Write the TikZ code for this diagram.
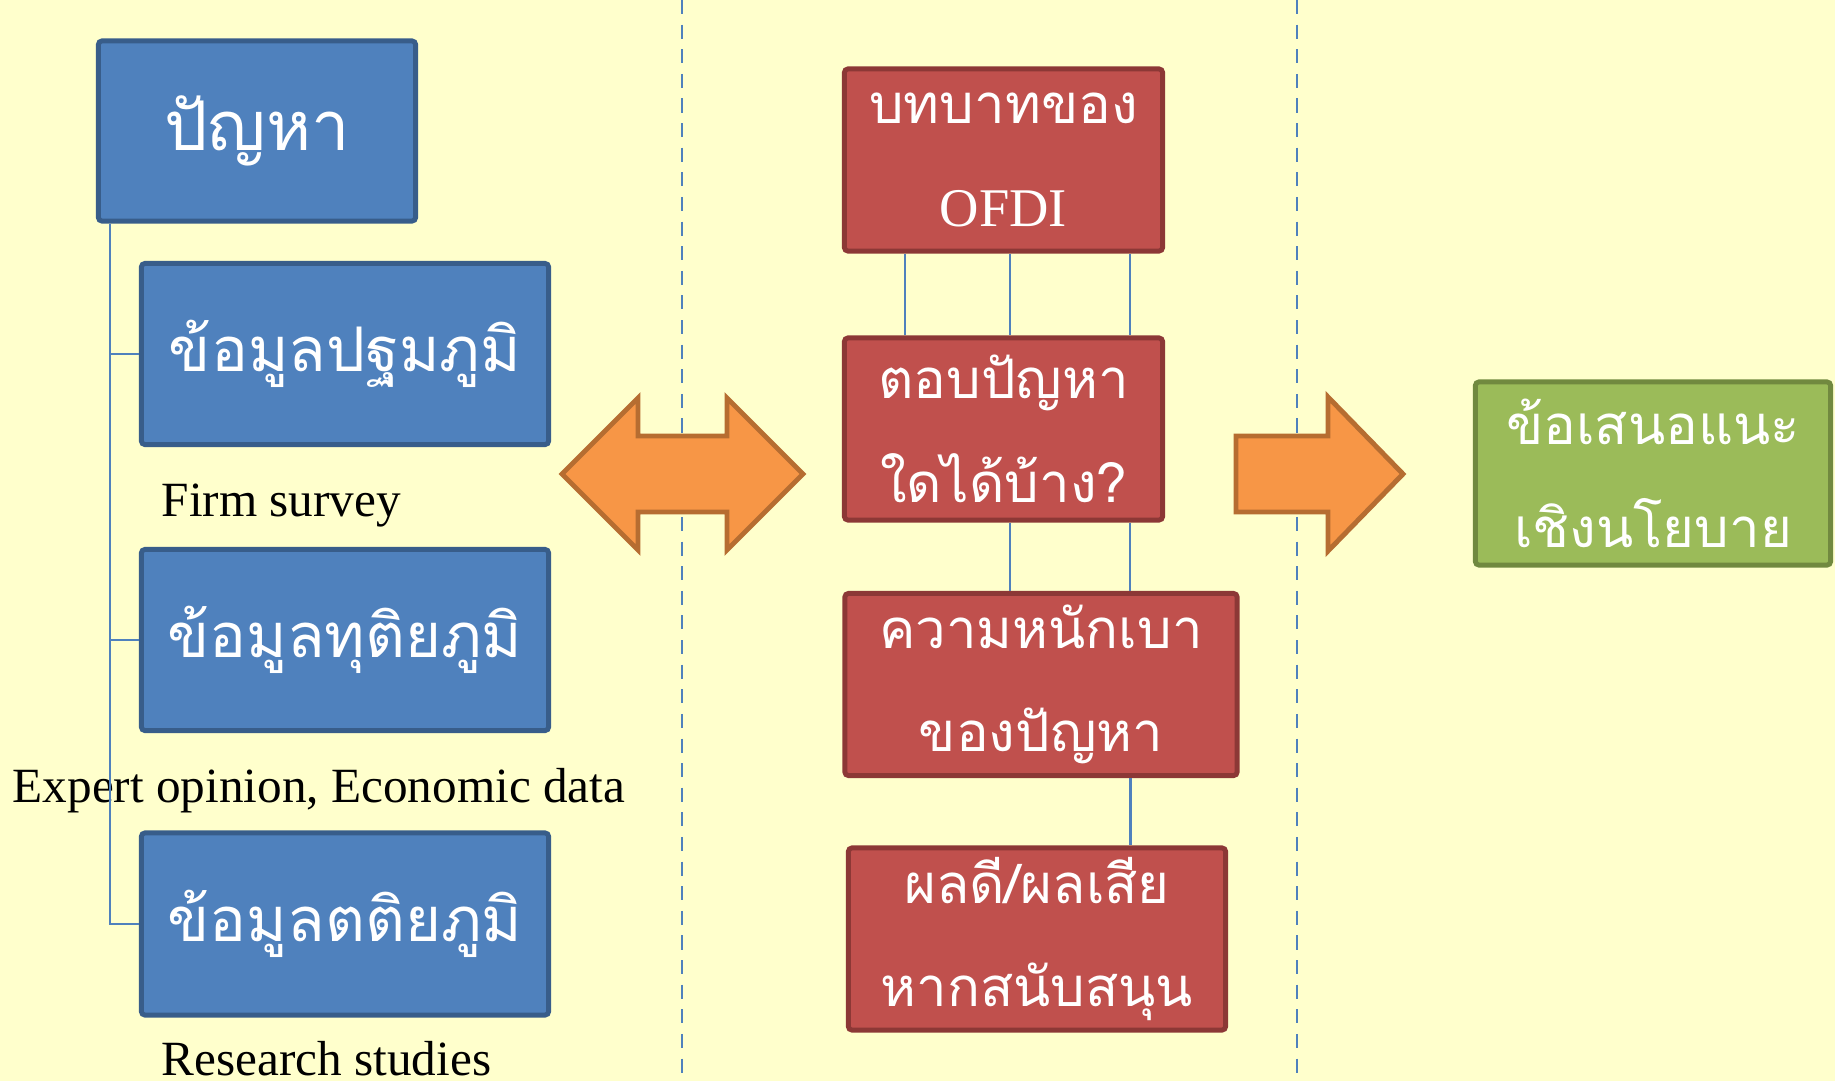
\documentclass[tikz,border=0pt]{standalone}
\usepackage{fontspec}
\setmainfont{Liberation Serif}
\newfontfamily\thaifont[Script=Thai]{Loma}
\usepackage{xcolor}

\definecolor{paper}{RGB}{255,255,204}
\definecolor{bluefill}{RGB}{79,129,189}
\definecolor{blueedge}{RGB}{56,93,138}
\definecolor{redfill}{RGB}{192,80,77}
\definecolor{rededge}{RGB}{140,56,54}
\definecolor{greenfill}{RGB}{155,187,89}
\definecolor{greenedge}{RGB}{113,137,63}
\definecolor{orangefill}{RGB}{247,150,70}
\definecolor{orangeedge}{RGB}{182,109,49}

\begin{document}
\begin{tikzpicture}[x=0.01cm, y=-0.01cm,
  bluebox/.style={draw=blueedge, fill=bluefill, line width=1.4pt, rounded corners=1pt,
    text=white, align=center, inner sep=0pt, font=\thaifont\fontsize{17.5}{29}\selectfont},
  redbox/.style={draw=rededge, fill=redfill, line width=1.4pt, rounded corners=1pt,
    text=white, align=center, inner sep=0pt, minimum height=1.82cm,
    font=\thaifont\fontsize{15.5}{29.5}\selectfont},
  greenbox/.style={draw=greenedge, fill=greenfill, line width=1.4pt, rounded corners=1pt,
    text=white, align=center, inner sep=0pt, font=\thaifont\fontsize{15.5}{29.5}\selectfont},
  note/.style={anchor=west, inner sep=0pt, font=\fontsize{14}{16}\selectfont},
  link/.style={draw=bluefill, line width=0.7pt},
  divider/.style={draw=bluefill, line width=0.8pt, dash pattern=on 4pt off 3pt},
  bigarrow/.style={draw=orangeedge, fill=orangefill, line width=1.4pt, line join=miter}
]

% background
\fill[paper] (0,0) rectangle (1835,1081);
\useasboundingbox (0,0) rectangle (1835,1081);

% column dividers
\draw[divider] (682,0) -- (682,1081);
\draw[divider] (1297,0) -- (1297,1081);

% left column: the problem and the data
\node[bluebox, minimum width=3.17cm, minimum height=1.80cm, font=\thaifont\fontsize{19.5}{29}\selectfont] (prob) at (257,131) {ปัญหา};
\node[bluebox, minimum width=4.07cm, minimum height=1.81cm] (prim) at (345,354) {ข้อมูลปฐมภูมิ};
\node[bluebox, minimum width=4.07cm, minimum height=1.81cm] (sec) at (345,640) {ข้อมูลทุติยภูมิ};
\node[bluebox, minimum width=4.07cm, minimum height=1.82cm] (tert) at (345,924) {ข้อมูลตติยภูมิ};

\node[note] (firm) at (161,506) {Firm survey};
\node[note] (expert) at (12,791) {Expert opinion, Economic data};
\node[note] (research) at (161,1059) {Research studies};

% tree lines
\draw[link] ([xshift=0.14cm]prob.south west) |- (prim.west);
\draw[link] ([xshift=0.14cm]prob.south west) |- (sec.west);
\draw[link] ([xshift=0.14cm]prob.south west) |- (tert.west);

% double arrow
\draw[bigarrow] (562,474) -- (638,398) -- (638,436) -- (727,436) -- (727,398) -- (803,474)
  -- (727,550) -- (727,512) -- (638,512) -- (638,550) -- cycle;

% middle column: the questions
\node[redbox, minimum width=3.18cm] (role) at (1003.5,160) {บทบาทของ\\{\normalfont OFDI}};
\node[redbox, minimum width=3.18cm] (answer) at (1003.5,429) {ตอบปัญหา\\ใดได้บ้าง?};
\node[redbox, minimum width=3.92cm] (weight) at (1041,684.5) {ความหนักเบา\\ของปัญหา};
\node[redbox, minimum width=3.77cm] (effect) at (1037,939) {ผลดี/ผลเสีย\\หากสนับสนุน};

% links between the questions
\foreach \dx in {0.63,1.68,2.88}
  \draw[link] ([xshift=\dx cm]role.south west) -- ([xshift=\dx cm]answer.north west);
\foreach \dx in {1.68,2.88}
  \draw[link] ([xshift=\dx cm]answer.south west) -- ([xshift=\dx cm]answer.south west |- weight.north);
\draw[link] ([xshift=2.88cm]weight.south west) -- ([xshift=2.88cm]weight.south west |- effect.north);

% right arrow
\draw[bigarrow] (1236,436) -- (1328,436) -- (1328,397) -- (1403,474) -- (1328,551)
  -- (1328,512) -- (1236,512) -- cycle;

% right column: the outcome
\node[greenbox, minimum width=3.55cm, minimum height=1.83cm] (policy) at (1653,473.5) {ข้อเสนอแนะ\\เชิงนโยบาย};

\end{tikzpicture}
\end{document}
